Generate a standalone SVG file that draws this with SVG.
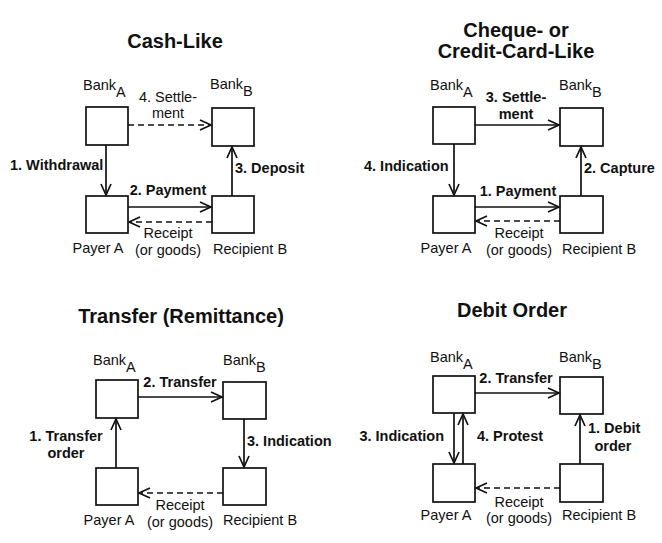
<svg xmlns="http://www.w3.org/2000/svg" width="662" height="543" viewBox="0 0 662 543">
<style>
text{font-family:"Liberation Sans",Arial,sans-serif;font-size:14.5px;fill:#111}
.t{font-size:20px;font-weight:bold;text-anchor:middle}
.b{font-weight:bold}
.c{text-anchor:middle}
.e{text-anchor:end}
rect{fill:#fff;stroke:#111;stroke-width:1.7}
.a{fill:none;stroke:#111;stroke-width:1.7;marker-end:url(#ah)}
.d{stroke-dasharray:6 4}
</style>
<defs>
<marker id="ah" markerUnits="userSpaceOnUse" markerWidth="14" markerHeight="14" refX="12" refY="6" orient="auto" viewBox="0 0 14 12">
<path d="M1,1 L12,6 L1,11" fill="none" stroke="#111" stroke-width="1.7"/>
</marker>
</defs>
<rect x="0" y="0" width="662" height="543" style="fill:#fff;stroke:none"/>
<g id="titles">
<text class="t" x="175" y="48">Cash-Like</text>
<text class="t" x="516" y="37">Cheque- or</text>
<text class="t" x="516" y="58">Credit-Card-Like</text>
<text class="t" x="181" y="323">Transfer (Remittance)</text>
<text class="t" x="512" y="317">Debit Order</text>
</g>
<!-- Panel 1 -->
<g id="p1-bankA"><rect x="86" y="107" width="42" height="38"/><text x="83" y="90">Bank<tspan dy="7">A</tspan></text></g>
<g id="p1-bankB"><rect x="212" y="108" width="42" height="38"/><text x="210" y="89">Bank<tspan dy="7">B</tspan></text></g>
<g id="p1-payer"><rect x="86" y="196" width="42" height="37"/><text class="c" x="98" y="253">Payer A</text></g>
<g id="p1-recipient"><rect x="212" y="196" width="42" height="37"/><text class="c" x="250" y="254">Recipient B</text></g>
<!-- Panel 2 -->
<g id="p2-bankA"><rect x="433" y="107" width="42" height="37"/><text x="430" y="90">Bank<tspan dy="7">A</tspan></text></g>
<g id="p2-bankB"><rect x="560" y="108" width="43" height="38"/><text x="559" y="90">Bank<tspan dy="7">B</tspan></text></g>
<g id="p2-payer"><rect x="433" y="196" width="42" height="37"/><text class="c" x="446" y="253">Payer A</text></g>
<g id="p2-recipient"><rect x="560" y="196" width="43" height="37"/><text class="c" x="599" y="254">Recipient B</text></g>
<!-- Panel 3 -->
<g id="p3-bankA"><rect x="96" y="380" width="42" height="38"/><text x="93" y="365">Bank<tspan dy="7">A</tspan></text></g>
<g id="p3-bankB"><rect x="223" y="382" width="43" height="37"/><text x="223" y="365">Bank<tspan dy="7">B</tspan></text></g>
<g id="p3-payer"><rect x="96" y="468" width="42" height="37"/><text class="c" x="109" y="525">Payer A</text></g>
<g id="p3-recipient"><rect x="223" y="468" width="43" height="37"/><text class="c" x="260" y="525">Recipient B</text></g>
<!-- Panel 4 -->
<g id="p4-bankA"><rect x="433" y="376" width="42" height="37"/><text x="430" y="362">Bank<tspan dy="7">A</tspan></text></g>
<g id="p4-bankB"><rect x="560" y="377" width="43" height="37"/><text x="559" y="362">Bank<tspan dy="7">B</tspan></text></g>
<g id="p4-payer"><rect x="433" y="464" width="42" height="38"/><text class="c" x="446" y="520">Payer A</text></g>
<g id="p4-recipient"><rect x="560" y="464" width="43" height="38"/><text class="c" x="599" y="520">Recipient B</text></g>
<g id="connectors">
<!-- P1 -->
<path class="a d" d="M128,125 H211"/>
<path class="a" d="M106,145 V195"/>
<path class="a" d="M128,207 H211"/>
<path class="a d" d="M212,222 H129"/>
<path class="a" d="M232,196 V147"/>
<!-- P2 -->
<path class="a" d="M475,125 H559"/>
<path class="a" d="M454,144 V195"/>
<path class="a" d="M475,207 H559"/>
<path class="a d" d="M560,221 H476"/>
<path class="a" d="M581,196 V147"/>
<!-- P3 -->
<path class="a" d="M138,397 H222"/>
<path class="a" d="M116,468 V419"/>
<path class="a" d="M244,419 V467"/>
<path class="a d" d="M223,493 H139"/>
<!-- P4 -->
<path class="a" d="M475,393 H559"/>
<path class="a" d="M454,413 V463"/>
<path class="a" d="M463,464 V414"/>
<path class="a" d="M580,464 V415"/>
<path class="a d" d="M560,488 H476"/>
</g>
<g id="connector-labels">
<text class="c" x="168" y="102">4. Settle-</text>
<text class="c" x="168" y="118">ment</text>
<text class="b" x="10" y="170">1. Withdrawal</text>
<text class="b c" x="168" y="195">2. Payment</text>
<text class="c" x="168" y="238">Receipt</text>
<text class="c" x="168" y="255">(or goods)</text>
<text class="b" x="235" y="173">3. Deposit</text>

<text class="b c" x="516" y="102">3. Settle-</text>
<text class="b c" x="516" y="119">ment</text>
<text class="b" x="364" y="171">4. Indication</text>
<text class="b c" x="518" y="196">1. Payment</text>
<text class="c" x="519" y="238">Receipt</text>
<text class="c" x="519" y="255">(or goods)</text>
<text class="b" x="584" y="173">2. Capture</text>

<text class="b c" x="180" y="387">2. Transfer</text>
<text class="b c" x="66" y="441">1. Transfer</text>
<text class="b c" x="66" y="458">order</text>
<text class="b" x="247" y="446">3. Indication</text>
<text class="c" x="180" y="510">Receipt</text>
<text class="c" x="180" y="527">(or goods)</text>

<text class="b c" x="516" y="383">2. Transfer</text>
<text class="b e" x="444" y="441">3. Indication</text>
<text class="b" x="477" y="441">4. Protest</text>
<text class="b" x="588" y="433">1. Debit</text>
<text class="b c" x="613" y="451">order</text>
<text class="c" x="519" y="507">Receipt</text>
<text class="c" x="519" y="523">(or goods)</text>
</g>
</svg>
